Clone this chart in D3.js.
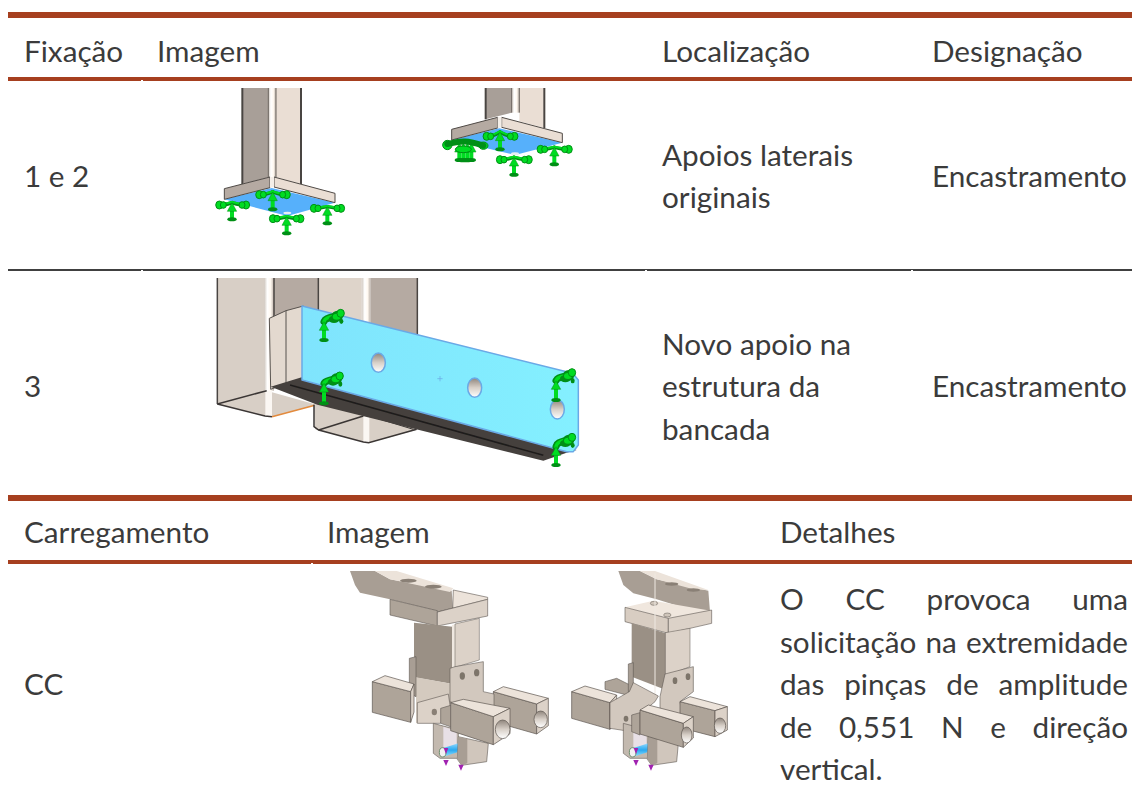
<!DOCTYPE html>
<html>
<head>
<meta charset="utf-8">
<script src="https://cdn.jsdelivr.net/npm/d3@7"></script>
<style>
body { margin: 0; background: #fff; }
text { font-family: Lato, "Open Sans", sans-serif; font-size: 29.7px; fill: #3b3b3b; }
</style>
</head>
<body>
<script>
const fixHeaders = ["Fixação", "Imagem", "Localização", "Designação"];
const fixIds = ["1 e 2", "3"];
const fixPlaces = [["Apoios laterais", "originais"], ["Novo apoio na", "estrutura da", "bancada"]];
const fixTypes = ["Encastramento", "Encastramento"];
const loadHeaders = ["Carregamento", "Imagem", "Detalhes"];
const loadIds = ["CC"];
const loadDetails = ["O CC provoca uma", "solicitação na extremidade", "das pinças de amplitude", "de 0,551 N e direção", "vertical."];

const width = 1132, height = 797;
const svg = d3.select("body").append("svg").attr("width", width).attr("height", height);
const defs = svg.append("defs");

defs.append("filter").attr("id", "soft").append("feGaussianBlur").attr("stdDeviation", 0.5);

const addGrad = (id, stops, horizontal) => {
    const g = defs.append("linearGradient").attr("id", id)
        .attr("x1", 0).attr("y1", 0).attr("x2", horizontal ? 1 : 0).attr("y2", horizontal ? 0 : 1);
    stops.forEach((s, i) => g.append("stop").attr("offset", i / (stops.length - 1)).attr("stop-color", s));
};
addGrad("strip", ["#cfc6bd", "#fff", "#fff8f0", "#b8aea5"], true);
addGrad("hole", ["#8f857c", "#d8d0c8", "#fff"], false);
addGrad("pin", ["#8fd8ff", "#2aa8f0", "#8fe0ff"], false);
addGrad("plate", ["#7fe4fd", "#84f0ff"], true);

//table rules
const rules = [
    { y: 12, h: 6, c: "#a63f1f" },
    { y: 77, h: 4, c: "#a63f1f" },
    { y: 269, h: 2, c: "#404040" },
    { y: 495, h: 6, c: "#a63f1f" },
    { y: 560, h: 4, c: "#a63f1f" }
];
svg.selectAll("rect.rule").data(rules).enter().append("rect")
    .attr("class", "rule")
    .attr("x", 8).attr("width", width - 8)
    .attr("y", d => d.y).attr("height", d => d.h)
    .attr("fill", d => d.c);

//small breaks where the cell borders meet
const breaks = [[141, 80], [141, 270], [645, 270], [911, 270], [311, 563]];
svg.selectAll("rect.gap").data(breaks).enter().append("rect")
    .attr("class", "gap")
    .attr("x", d => d[0]).attr("y", d => d[1]).attr("width", 2).attr("height", 1).attr("fill", "#fff");

//columns
const fixX = d3.scaleOrdinal().domain(fixHeaders).range([24, 157, 662, 932]);
const loadX = d3.scaleOrdinal().domain(loadHeaders).range([24, 327, 780]);

const label = (x, y, t) => svg.append("text").attr("x", x).attr("y", y).text(t);

fixHeaders.forEach(h => label(fixX(h), 62, h));
loadHeaders.forEach(h => label(loadX(h), 543, h));

const fixRowY = d3.scaleOrdinal().domain(fixIds).range([187, 397]);
fixIds.forEach((id, i) => {
    label(fixX("Fixação"), fixRowY(id), id);
    label(fixX("Designação"), fixRowY(id), fixTypes[i]);
    const n = fixPlaces[i].length;
    fixPlaces[i].forEach((t, j) => label(fixX("Localização"), fixRowY(id) + (j - (n - 1) / 2) * 42.5, t));
});
label(24, 695, loadIds[0]);

//justified details text
const lineY = d3.scaleLinear().domain([0, 4]).range([610, 780]);
loadDetails.forEach((t, i) => {
    const el = label(loadX("Detalhes"), lineY(i), t);
    if (i < loadDetails.length - 1) {
        const gaps = t.split(" ").length - 1;
        el.attr("word-spacing", (1128 - 780 - el.node().getComputedTextLength()) / gaps);
    }
});

const picture = (ox, oy) => {
    const g = svg.append("g").attr("filter", "url(#soft)");
    const sx = d3.scaleLinear().domain([0, 1200]).range([ox, ox + 400]);
    const sy = d3.scaleLinear().domain([0, 1200]).range([oy, oy + 400]);
    const line = d3.line().x(d => sx(d[0])).y(d => sy(d[1]));
    const curve = d3.line().x(d => sx(d[0])).y(d => sy(d[1])).curve(d3.curveBasis);
    return {
        poly: (pts, fill, stroke, sw) => g.append("path").attr("d", line(pts) + "Z")
            .attr("fill", fill).attr("stroke", stroke || "none").attr("stroke-width", sw || 1).attr("stroke-linejoin", "round"),
        path: (pts, stroke, sw) => g.append("path").attr("d", line(pts))
            .attr("fill", "none").attr("stroke", stroke).attr("stroke-width", sw || 1),
        arc: (pts, stroke, sw) => g.append("path").attr("d", curve(pts))
            .attr("fill", "none").attr("stroke", stroke).attr("stroke-width", sw || 1).attr("stroke-linecap", "round"),
        oval: (cx, cy, rx, ry, fill, stroke, sw) => g.append("ellipse")
            .attr("cx", sx(cx)).attr("cy", sy(cy)).attr("rx", rx / 3).attr("ry", ry / 3)
            .attr("fill", fill).attr("stroke", stroke || "none").attr("stroke-width", sw || 1)
    };
};

const GREEN = "#00dc22", DARK = "#008f16";

//up arrow with a foot
const arrow = (p, x, top, foot) => {
    p.poly([[x - 6, top + 24], [x + 6, top + 24], [x + 6, foot - 3], [x - 6, foot - 3]], GREEN);
    p.poly([[x, top], [x - 14, top + 26], [x + 14, top + 26]], GREEN, DARK, 0.5);
    p.oval(x, foot, 14, 6, DARK);
};

//flat fixture symbol: arrow and two side arms
const fixture = (p, x, top, foot, lx, rx, ay) => {
    p.arc([[x, top + 4], [(x + lx) / 2, ay], [lx, ay + 2]], DARK, 3.5);
    p.arc([[x, top + 4], [(x + rx) / 2, ay], [rx, ay + 2]], DARK, 3.5);
    p.arc([[x, top + 2], [(x + lx) / 2, ay - 3], [lx, ay]], GREEN, 2);
    p.arc([[x, top + 2], [(x + rx) / 2, ay - 3], [rx, ay]], GREEN, 2);
    [[lx, 1.2], [lx + 12, 1], [rx, 1.2], [rx - 12, 1]].forEach(b => p.oval(b[0], ay + 1, 9 * b[1], 10 * b[1], GREEN, DARK));
    arrow(p, x, top + 4, foot);
};

//fixture on the side plate
const sideFixture = (p, x, top, foot, bx, by) => {
    p.arc([[x, top], [x + 4, by + 8], [bx, by]], DARK, 7);
    p.arc([[x, top], [x + 4, by + 6], [bx, by]], GREEN, 3.5);
    p.oval(bx - 6, by + 10, 16, 11, DARK);
    p.oval(bx + 4, by, 17, 16, DARK);
    p.oval(bx + 2, by + 2, 12, 9, GREEN);
    p.oval(bx + 14, by - 8, 11, 12, GREEN, DARK);
    p.oval(bx + 16, by + 16, 6, 8, DARK);
    arrow(p, x, top, foot);
};

//column foot, the two figures in the first row
const columnFoot = (p, lx, ly, ry) => {
    p.poly([[lx, 24], [lx + 78, 24], [lx + 78, ly - 20], [lx, ly]], "#a89f98");
    p.poly([[lx + 78, 24], [lx + 101, 24], [lx + 101, ly - 20], [lx + 78, ly - 20]], "url(#strip)");
    p.poly([[lx + 101, 24], [lx + 176, 24], [lx + 176, ry], [lx + 101, ry - 20]], "#eaded4");
    p.path([[lx, 24], [lx, ly]], "#4a4542", 2);
    p.path([[lx + 78, 24], [lx + 78, ly - 20]], "#6b645e", 1);
    p.path([[lx + 101, 24], [lx + 101, ly - 20]], "#6b645e", 1);
    p.path([[lx + 176, 24], [lx + 176, ry]], "#4a4542", 2);
};

const flange = (p, x0, y0, x1, y1, x2, y2, x3, y3) => {
    p.poly([[x0, y0 + 32], [x1 + 5, y1 + 33], [x2, y2 + 28], [x3, y3]], "#56b0fb");
    p.poly([[x0, y0], [x1, y1], [x1, y1 + 32], [x0, y0 + 32]], "#b5aaa2", "#4f4a46", 1);
    p.poly([[x1 + 12, y1], [x2, y2], [x2, y2 + 28], [x1 + 12, y1 + 30]], "#eaded4", "#4f4a46", 1);
    p.poly([[x1, y1], [x1 + 12, y1], [x1 + 12, y1 + 30], [x1, y1 + 32]], "#f4eee8");
};

const p1 = picture(200, 80);
columnFoot(p1, 127, 312, 312);
flange(p1, 73, 326, 210, 291, 405, 340, 262, 408);
p1.oval(262, 399, 12, 4, "#e8eef4");
fixture(p1, 218, 332, 388, 178, 260, 343);
fixture(p1, 96, 364, 418, 58, 138, 374);
fixture(p1, 382, 376, 430, 342, 423, 384);
fixture(p1, 260, 406, 460, 219, 301, 415);

columnFoot(p1, 857, 118, 144);
flange(p1, 755, 148, 893, 112, 1087, 160, 945, 225);
p1.oval(945, 221, 12, 4, "#e8eef4");
fixture(p1, 900, 152, 208, 860, 943, 168);
fixture(p1, 1063, 198, 253, 1022, 1106, 207);
fixture(p1, 942, 228, 284, 900, 986, 238);
[778, 790, 802, 814].forEach(x => arrow(p1, x, 190, 240));
p1.oval(795, 241, 30, 6, DARK);
p1.oval(742, 195, 14, 14, GREEN, DARK);
p1.oval(850, 197, 14, 11, GREEN, DARK);
p1.arc([[742, 192], [795, 180], [850, 197]], DARK, 6);
p1.oval(790, 208, 24, 10, GREEN, DARK);

//second row, plate against the old frame
const p2 = picture(200, 270);
p2.poly([[52, 24], [192, 24], [192, 370], [52, 402]], "#d8cfc6");
p2.poly([[192, 24], [222, 24], [222, 362], [192, 362]], "url(#strip)");
p2.poly([[222, 24], [355, 24], [355, 200], [222, 200]], "#b5aaa2");
p2.poly([[355, 24], [485, 24], [485, 200], [355, 200]], "#ded4ca");
p2.poly([[485, 24], [512, 24], [512, 200], [485, 200]], "url(#strip)");
p2.poly([[512, 24], [652, 24], [652, 210], [512, 210]], "#b5aaa2");
[52, 222, 355, 652].forEach(x => p2.path([[x, 24], [x, x === 52 ? 402 : 200]], "#4a4542", 1.5));
p2.poly([[52, 402], [200, 362], [350, 404], [216, 440], [195, 438]], "#d8cfc6");
p2.poly([[196, 362], [216, 362], [216, 440], [196, 438]], "#fbf7f3");
p2.path([[52, 402], [200, 362]], "#3a3634", 1.5);
p2.path([[52, 402], [195, 438], [216, 440]], "#3a3634", 1.5);
p2.path([[216, 440], [350, 404]], "#e38a3c", 1.5);

p2.poly([[342, 400], [490, 430], [640, 470], [650, 480], [505, 518], [490, 516], [345, 478]], "#d8cfc6");
p2.poly([[490, 430], [508, 432], [508, 516], [490, 516]], "#fbf7f3");
p2.path([[342, 404], [342, 470], [356, 480], [490, 516], [506, 518], [650, 478]], "#3a3634", 1.5);
p2.path([[356, 480], [490, 438]], "#3a3634", 1.5);
p2.path([[508, 438], [640, 478]], "#3a3634", 1);

p2.poly([[208, 145], [258, 122], [310, 108], [310, 325], [258, 340], [212, 358]], "#e3d9cf", "#57524e", 1);
p2.path([[258, 122], [258, 340]], "#57524e", 1);

p2.poly([[212, 350], [305, 322], [1130, 540], [1100, 548], [1030, 572], [352, 404]], "#45403d");
p2.path([[270, 345], [1030, 556]], "#1f1c1b", 1.5);
p2.poly([[306, 108], [1118, 310], [1135, 330], [1135, 525], [1120, 545], [1100, 545], [306, 330]], "url(#plate)", "#6aa9e6", 1.5);
[[535, 278], [824, 353], [1072, 418]].forEach(h => p2.oval(h[0], h[1], 21, 29, "url(#hole)", "#6aa9e6", 1.5));
p2.path([[712, 326], [728, 326]], "#6aa9e6", 0.7);
p2.path([[720, 318], [720, 334]], "#6aa9e6", 0.7);

sideFixture(p2, 372, 155, 210, 408, 138);
sideFixture(p2, 372, 340, 400, 405, 326);
sideFixture(p2, 1068, 332, 390, 1102, 316);
sideFixture(p2, 1068, 530, 585, 1102, 510);

//last row, gripper seen from two sides
const TOP = "#ece3da", SIDE = "#dcd2c8", FRONT = "#aea499", SHADE = "#9a9085", EDGE = "#5e5852";
const p3 = picture(340, 560);

const box = (p, a, b, c, d, h, hole) => {
    //a-b front top edge, c-d far end, h the drop of the box
    p.poly([a, b, [b[0], b[1] + h], [a[0], a[1] + h]], FRONT, EDGE, 0.7);
    p.poly([a, b, c, d], TOP, EDGE, 0.7);
    p.poly([b, c, [c[0], c[1] + h - 8], [b[0], b[1] + h]], SIDE, EDGE, 0.7);
    if (hole) p.oval(hole[0], hole[1], hole[2], hole[3], "url(#hole)", EDGE, 0.7);
};

const jaw = (p, dx) => {
    p.poly([[280 + dx, 490], [355 + dx, 510], [355 + dx, 595], [300 + dx, 595], [280 + dx, 580]], "#c3b9af", EDGE, 0.6);
    p.poly([[310 + dx, 500], [350 + dx, 512], [350 + dx, 555], [310 + dx, 565]], "#e8e0e6");
    p.poly([[310 + dx, 564], [355 + dx, 550], [355 + dx, 576], [310 + dx, 590]], "url(#pin)");
    p.oval(308 + dx, 577, 10, 14, "#f2f2f2", "#6f8f6f", 1);
    p.poly([[355 + dx, 530], [445 + dx, 550], [440 + dx, 605], [365 + dx, 616], [352 + dx, 598]], "#d0c6bc", EDGE, 0.6);
    p.poly([[355 + dx, 530], [382 + dx, 537], [382 + dx, 610], [365 + dx, 616], [352 + dx, 598]], "#a89e94");
    [[318, 566, 7], [318, 602, 8], [363, 616, 8]].forEach(a =>
        p.poly([[a[0] + dx - a[2], a[1] - 2], [a[0] + dx + a[2], a[1] - 2], [a[0] + dx, a[1] + 16]], "#a020b0"));
};

//left gripper
p3.poly([[30, 33], [105, 33], [150, 58], [335, 92], [340, 155], [300, 155], [150, 118], [60, 98], [45, 75]], "#a89e94");
p3.poly([[105, 33], [170, 33], [340, 85], [330, 96], [150, 58]], TOP);
p3.oval(205, 62, 25, 6, "#8a8076");
p3.oval(280, 80, 25, 6, "#8a8076");
p3.poly([[150, 118], [292, 152], [292, 198], [150, 165]], FRONT, EDGE, 0.6);
p3.poly([[340, 90], [443, 112], [443, 118], [292, 156], [338, 150]], TOP, EDGE, 0.6);
p3.poly([[292, 156], [443, 118], [443, 168], [292, 198]], SIDE, EDGE, 0.6);
p3.poly([[222, 188], [338, 200], [338, 372], [222, 352]], SHADE);
p3.poly([[336, 195], [348, 192], [348, 330], [336, 335]], "#efe8e0");
p3.poly([[345, 192], [418, 175], [418, 300], [345, 322]], SIDE, EDGE, 0.5);
p3.poly([[228, 352], [338, 372], [338, 430], [228, 490]], "#d4cabf");
p3.poly([[208, 295], [228, 290], [228, 410], [208, 400]], "#a89e94", EDGE, 0.6);
box(p3, [97, 365], [212, 395], [222, 372], [135, 347], 92);
p3.poly([[232, 428], [325, 402], [335, 470], [300, 490], [232, 490]], SIDE, EDGE, 0.6);
p3.oval(283, 456, 8, 10, "#8a8076");
jaw(p3, 0);
box(p3, [460, 395], [590, 432], [625, 415], [490, 380], 90, [602, 478, 20, 25]);
p3.poly([[330, 325], [345, 320], [430, 305], [430, 395], [462, 402], [462, 470], [330, 425]], "#d2c8be", EDGE, 0.6);
p3.oval(367, 348, 8, 11, "#7d746b");
p3.oval(410, 338, 8, 11, "#7d746b");
p3.poly([[302, 445], [345, 432], [345, 505], [302, 490]], FRONT, EDGE, 0.6);
box(p3, [332, 428], [460, 470], [510, 445], [370, 418], 84, [488, 508, 22, 28]);

//right gripper
p3.poly([[835, 33], [900, 33], [950, 58], [1105, 92], [1110, 155], [1070, 155], [950, 118], [880, 100], [850, 75]], "#a89e94");
p3.poly([[900, 33], [945, 33], [1105, 90], [1060, 88], [950, 58]], TOP);
p3.oval(995, 72, 20, 5, "#8a8076");
p3.oval(1060, 90, 20, 5, "#8a8076");
p3.poly([[855, 142], [940, 122], [1112, 152], [985, 175]], "#f0e7de");
p3.poly([[855, 142], [985, 175], [985, 220], [855, 185]], "#d8cdc2", EDGE, 0.6);
p3.poly([[985, 175], [1115, 150], [1115, 190], [985, 220]], SIDE, EDGE, 0.6);
p3.oval(942, 130, 11, 6, "#cfc5ba", EDGE, 0.5);
p3.oval(982, 165, 11, 6, "#cfc5ba", EDGE, 0.5);
p3.poly([[875, 190], [978, 220], [978, 390], [875, 350]], SHADE);
p3.poly([[976, 218], [1050, 205], [1050, 320], [985, 345], [976, 390]], SIDE, EDGE, 0.5);
p3.path([[945, 40], [945, 420]], "#efe9e2", 1);
p3.poly([[795, 365], [830, 355], [880, 380], [880, 410], [795, 388]], FRONT, EDGE, 0.6);
p3.poly([[865, 312], [880, 308], [880, 400], [865, 395]], "#a89e94", EDGE, 0.6);
box(p3, [695, 395], [810, 428], [830, 405], [735, 378], 80);
p3.poly([[810, 428], [868, 395], [880, 368], [955, 408], [945, 425], [890, 470], [875, 515], [810, 505]], "#d2c8be", EDGE, 0.6);
p3.oval(858, 476, 7, 9, "#7d746b");
jaw(p3, 570);
p3.poly([[975, 342], [1060, 320], [1060, 395], [1020, 425], [1030, 490], [960, 470], [960, 410]], "#d2c8be", EDGE, 0.6);
p3.oval(1005, 362, 7, 10, "#7d746b");
p3.oval(1044, 350, 7, 10, "#7d746b");
box(p3, [1020, 425], [1125, 452], [1162, 440], [1050, 410], 78, [1140, 497, 17, 23]);
p3.poly([[875, 465], [900, 458], [900, 525], [875, 515]], FRONT, EDGE, 0.6);
box(p3, [900, 450], [1030, 490], [1060, 470], [925, 435], 72, [1040, 525, 16, 24]);
</script>
</body>
</html>
